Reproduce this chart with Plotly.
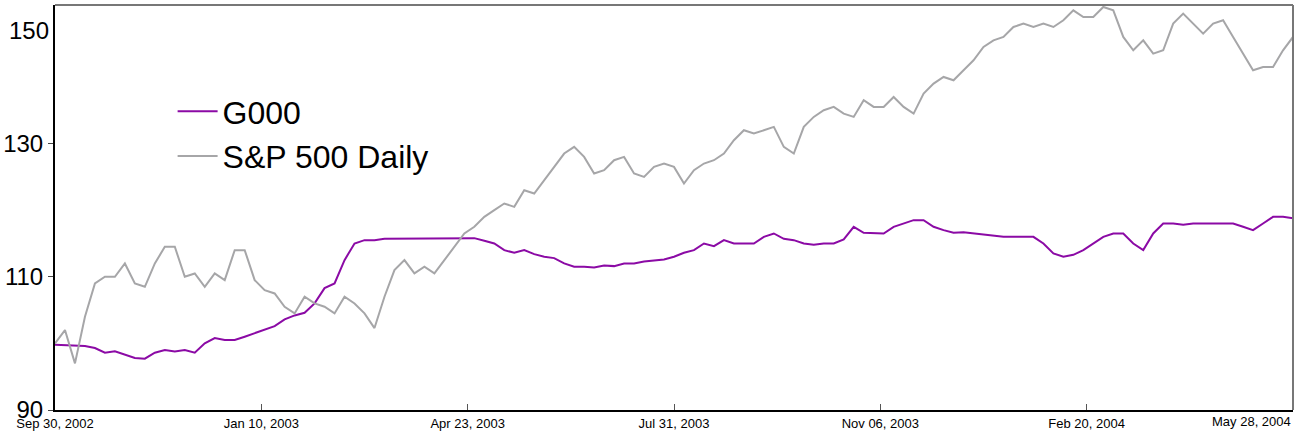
import plotly.graph_objects as go

tick_labels = ["Sep 30, 2002", "Jan 10, 2003", "Apr 23, 2003", "Jul 31, 2003",
               "Nov 06, 2003", "Feb 20, 2004", "May 28, 2004"]
tick_days = [0, 70, 140, 210, 280, 350, 420]

sp500 = [100, 102, 97, 104, 109, 110, 110, 112, 109, 108.5, 112, 114.5, 114.5, 110, 110.5,
         108.5, 110.5, 109.5, 114, 114, 109.5, 108, 107.5, 105.5, 104.5, 107, 106, 105.5, 104.5,
         107, 106, 104.5, 102.3, 107, 111, 112.5, 110.5, 111.5, 110.5, 112.5, 114.5, 116.5, 117.5,
         119, 120, 121, 120.5, 123, 122.5, 124.5, 126.5, 128.5, 129.5, 128, 125.5, 126, 127.5, 128,
         125.5, 125, 126.5, 127, 126.5, 124, 126, 127, 127.5, 128.5, 130.5, 132, 131.5, 132, 132.5,
         129.5, 128.5, 132.5, 134, 135, 135.5, 134.5, 134, 136.5, 135.5, 135.5, 137, 135.5, 134.5,
         137.5, 139, 140, 139.5, 141, 142.5, 144.5, 145.5, 146, 147.5, 148, 147.5, 148, 147.5, 148.5,
         150, 149, 149, 150.5, 150, 146, 144, 145.5, 143.5, 144, 148, 149.5, 148, 146.5, 148, 148.5,
         146, 143.5, 141, 141.5, 141.5, 144, 146]

g000 = [99.8, 99.7, 99.6, 99.6, 99.3, 98.6, 98.8, 98.3, 97.8, 97.7, 98.6, 99, 98.8, 99, 98.6,
        100, 100.8, 100.5, 100.5, 101, 101.5, 102, 102.6, 103.6, 104.2, 104.6, 106, 108.3, 109,
        112.5, 115, 115.5, 115.5, 115.7, 115.7, 115.7, 115.7, 115.7, 115.7, 115.7, 115.7, 115.7,
        115.8, 115.4, 115, 114, 113.6, 114, 113.4, 113, 112.8, 112, 111.5, 111.5, 111.4, 111.7,
        111.6, 112, 112, 112.3, 112.5, 112.6, 113, 113.6, 114, 115, 114.6, 115.5, 115, 115, 115,
        116, 116.5, 115.7, 115.5, 115, 114.8, 115, 115, 115.6, 117.5, 116.6, 116.5, 116.5, 117.5,
        118, 118.5, 118.5, 117.5, 117, 116.6, 116.7, 116.5, 116.3, 116.2, 116, 116, 116, 116, 115,
        113.5, 113, 113.3, 114, 115, 116, 116.5, 116.5, 115, 114, 116.5, 118, 118, 117.8, 118, 118,
        118, 118, 118, 117.5, 117, 118, 119, 119, 118.8]

n = len(sp500)
days = [k * 420 / (n - 1) for k in range(n)]

fig = go.Figure()
fig.add_trace(go.Scatter(x=days, y=g000, mode="lines", name="G000",
                         line=dict(color="#8b0aa5", width=2)))
fig.add_trace(go.Scatter(x=days, y=sp500, mode="lines", name="S&P 500 Daily",
                         line=dict(color="#a6a6a8", width=2)))

xfont = dict(size=13, family="Liberation Sans Narrow, Arial Narrow, Arial", color="black")
fig.update_layout(
    width=1296, height=434,
    margin=dict(l=53, r=3, t=5, b=24),
    paper_bgcolor="white", plot_bgcolor="white",
    font=dict(family="Liberation Sans, Arial", color="black"),
    showlegend=True,
    legend=dict(x=0.095, y=0.805, xanchor="left", yanchor="top",
                font=dict(size=32, color="black"), bgcolor="rgba(0,0,0,0)",
                itemwidth=40, tracegroupgap=0),
    xaxis=dict(range=[0, 420], tickvals=tick_days[:-1], ticktext=tick_labels[:-1],
               showgrid=False, zeroline=False, showline=True, linecolor="black",
               linewidth=2, ticks="inside", ticklen=6, tickcolor="#555",
               tickfont=xfont),
    yaxis=dict(range=[90, 150.8], tickvals=[90, 110, 130],
               showgrid=False, zeroline=False, showline=True, linecolor="black",
               linewidth=2, ticks="outside", ticklen=5, tickfont=dict(size=24)),
)
fig.add_annotation(xref="x", yref="paper", x=tick_days[-1], y=0, text=tick_labels[-1],
                   showarrow=False, xanchor="right", yanchor="top", yshift=-2, font=xfont)
fig.add_annotation(xref="paper", yref="y", x=0, y=150, text="150", showarrow=False,
                   xanchor="right", yanchor="middle", xshift=-4, yshift=-20,
                   font=dict(size=24, color="black"))
fig.add_shape(type="line", xref="paper", yref="paper", x0=0, x1=1, y0=1, y1=1,
              line=dict(color="#777", width=2))
fig.add_shape(type="line", xref="paper", yref="paper", x0=1, x1=1, y0=0, y1=1,
              line=dict(color="#777", width=2))

html = fig.to_html(include_plotlyjs=True, full_html=True, config={"displayModeBar": False})
html = html.replace("<head>", "<head><style>html,body{margin:0;padding:0;overflow:hidden}</style>", 1)
with open("out.html", "w", encoding="utf-8") as f:
    f.write(html)
